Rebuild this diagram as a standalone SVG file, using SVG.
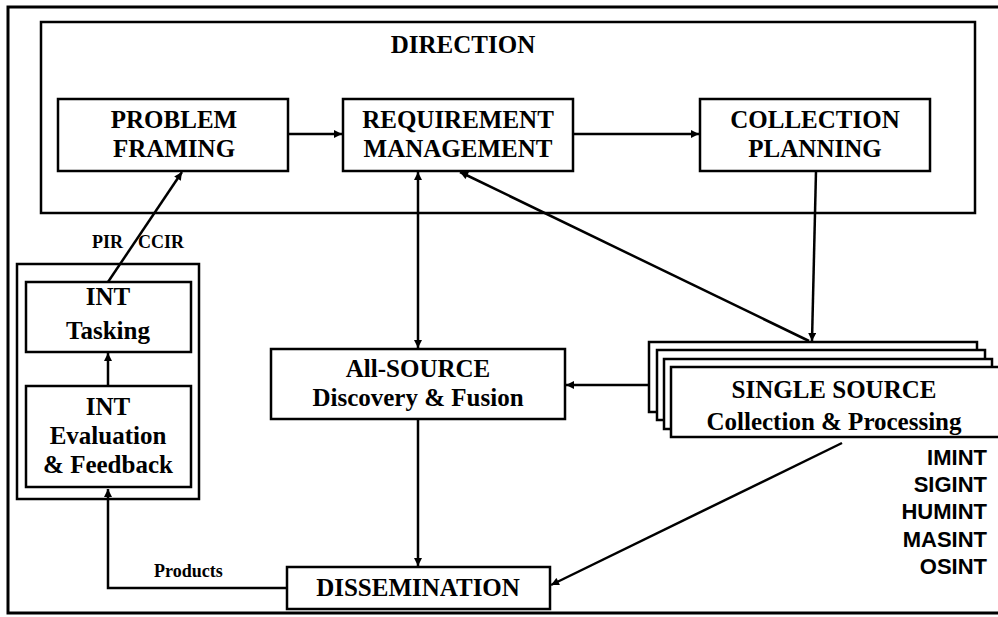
<svg xmlns="http://www.w3.org/2000/svg" width="998" height="617" viewBox="0 0 998 617">
<style>
.bx{fill:#fff;stroke:#000;stroke-width:2.5}
.fr{fill:none;stroke:#000;stroke-width:3}
.t{font-family:"Liberation Serif","Times New Roman",serif;font-weight:bold;font-size:25px;fill:#000;text-anchor:middle}
.s{font-family:"Liberation Serif","Times New Roman",serif;font-weight:bold;font-size:18px;fill:#000}
.l{font-family:"Liberation Sans",Arial,sans-serif;font-weight:bold;font-size:22px;fill:#000;text-anchor:end}
.c{fill:none;stroke:#000;stroke-width:2.5}
</style>
<defs>
<marker id="ah" viewBox="0 0 10 10" refX="10" refY="5" markerWidth="10" markerHeight="8" markerUnits="userSpaceOnUse" orient="auto-start-reverse"><path d="M0,0 L10,5 L0,10 z" fill="#000"/></marker>
</defs>
<rect x="0" y="0" width="998" height="617" fill="#fff"/>
<rect class="fr" x="8" y="7" width="1000" height="606"/>
<g id="direction">
<rect class="fr" x="41" y="22" width="934" height="191" style="stroke-width:2.5"/>
<text class="t" x="463" y="53">DIRECTION</text>
</g>
<g id="problem-framing">
<rect class="bx" x="58" y="99" width="230" height="72"/>
<text class="t" x="174" y="128">PROBLEM</text>
<text class="t" x="174" y="157">FRAMING</text>
</g>
<g id="requirement-management">
<rect class="bx" x="343" y="99" width="230" height="72"/>
<text class="t" x="458" y="128">REQUIREMENT</text>
<text class="t" x="458" y="157">MANAGEMENT</text>
</g>
<g id="collection-planning">
<rect class="bx" x="700" y="99" width="230" height="72"/>
<text class="t" x="815" y="128">COLLECTION</text>
<text class="t" x="815" y="157">PLANNING</text>
</g>
<g id="int-group">
<rect class="fr" x="17" y="264" width="182" height="235" style="stroke-width:2.5"/>
</g>
<g id="int-tasking">
<rect class="bx" x="26" y="282" width="165" height="70"/>
<text class="t" x="108" y="305">INT</text>
<text class="t" x="108" y="339">Tasking</text>
</g>
<g id="int-evaluation">
<rect class="bx" x="26" y="386" width="165" height="101"/>
<text class="t" x="108" y="415">INT</text>
<text class="t" x="108" y="444">Evaluation</text>
<text class="t" x="108" y="473">&amp; Feedback</text>
</g>
<g id="all-source">
<rect class="bx" x="271" y="349" width="294" height="70"/>
<text class="t" x="418" y="377">All-SOURCE</text>
<text class="t" x="418" y="406">Discovery &amp; Fusion</text>
</g>
<g id="single-source">
<rect class="bx" x="649" y="342" width="328" height="70"/>
<rect class="bx" x="657" y="350" width="328" height="70"/>
<rect class="bx" x="664" y="359" width="328" height="70"/>
<rect class="bx" x="671" y="367" width="340" height="70"/>
<text class="t" x="834" y="398">SINGLE SOURCE</text>
<text class="t" x="834" y="430">Collection &amp; Processing</text>
</g>
<g id="dissemination">
<rect class="bx" x="287" y="567" width="263" height="42"/>
<text class="t" x="418" y="596">DISSEMINATION</text>
</g>
<g id="int-types">
<text class="l" x="987" y="465">IMINT</text>
<text class="l" x="987" y="492">SIGINT</text>
<text class="l" x="987" y="519">HUMINT</text>
<text class="l" x="987" y="547">MASINT</text>
<text class="l" x="987" y="574">OSINT</text>
</g>
<g id="connectors">
<line class="c" x1="288" y1="134" x2="342" y2="134" marker-end="url(#ah)"/>
<line class="c" x1="573" y1="134" x2="699" y2="134" marker-end="url(#ah)"/>
<line class="c" x1="816" y1="171" x2="812" y2="341" marker-end="url(#ah)"/>
<line class="c" x1="809" y1="341" x2="460" y2="172" marker-end="url(#ah)"/>
<line class="c" x1="418" y1="172" x2="418" y2="348" marker-start="url(#ah)" marker-end="url(#ah)"/>
<line class="c" x1="649" y1="385" x2="566" y2="385" marker-end="url(#ah)"/>
<line class="c" x1="418" y1="419" x2="418" y2="566" marker-end="url(#ah)"/>
<line class="c" x1="842" y1="443" x2="551" y2="585" marker-end="url(#ah)"/>
<polyline class="c" points="287,588 108,588 108,489" marker-end="url(#ah)"/>
<line class="c" x1="108" y1="386" x2="108" y2="353" marker-end="url(#ah)"/>
<line class="c" x1="108" y1="282" x2="182" y2="172" marker-end="url(#ah)"/>
<text class="s" x="92" y="248">PIR</text>
<text class="s" x="138" y="248">CCIR</text>
<text class="s" x="154" y="577">Products</text>
</g>
</svg>
